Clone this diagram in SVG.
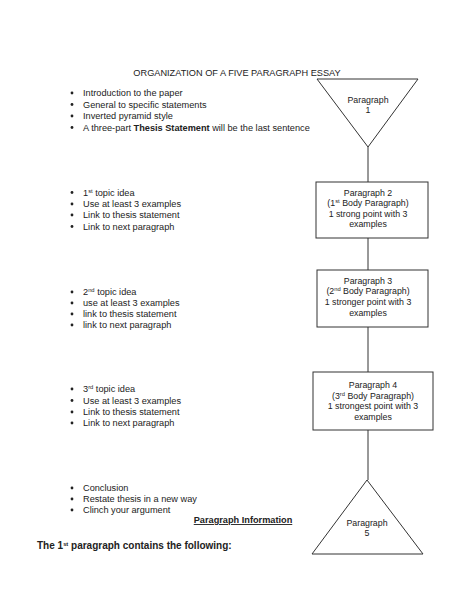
<svg xmlns="http://www.w3.org/2000/svg" width="474" height="612" viewBox="0 0 474 612">
<style>
text{font-family:"Liberation Sans",Arial,sans-serif;fill:#222;font-size:9.2px}
.n text{font-size:8.8px}
.c{text-anchor:middle}
.b{font-weight:bold}
.sh{fill:#fff;stroke:#333;stroke-width:1}
.ln{stroke:#333;stroke-width:1;fill:none}
.dot{fill:#222}
.sup{font-size:5.8px}
</style>
<rect width="474" height="612" fill="#fff"/>
<text class="c" x="237" y="76">ORGANIZATION OF A FIVE PARAGRAPH ESSAY</text>

<g id="connectors">
<line class="ln" x1="368" y1="147" x2="368" y2="182"/>
<line class="ln" x1="368" y1="238" x2="368" y2="270"/>
<line class="ln" x1="368" y1="327" x2="368" y2="372"/>
<line class="ln" x1="368" y1="430" x2="368" y2="480"/>
</g>

<g id="p1" class="n">
<polygon class="sh" points="317,79 418,79 368,147"/>
<text class="c" x="368" y="102.5">Paragraph</text>
<text class="c" x="368" y="113">1</text>
</g>
<g id="p2" class="n">
<rect class="sh" x="316" y="182" width="112" height="56"/>
<text class="c" x="368" y="195.5">Paragraph 2</text>
<text class="c" x="368" y="206">(1<tspan class="sup" dy="-3">st</tspan><tspan dy="3"> Body Paragraph)</tspan></text>
<text class="c" x="368" y="216.5">1 strong point with 3</text>
<text class="c" x="368" y="227">examples</text>
</g>
<g id="p3" class="n">
<rect class="sh" x="317" y="270" width="111" height="57"/>
<text class="c" x="368" y="283.5">Paragraph 3</text>
<text class="c" x="368" y="294">(2<tspan class="sup" dy="-3">nd</tspan><tspan dy="3"> Body Paragraph)</tspan></text>
<text class="c" x="368" y="304.5">1 stronger point with 3</text>
<text class="c" x="368" y="315.5">examples</text>
</g>
<g id="p4" class="n">
<rect class="sh" x="313" y="372" width="120" height="58"/>
<text class="c" x="373" y="388">Paragraph 4</text>
<text class="c" x="373" y="398.5">(3<tspan class="sup" dy="-3">rd</tspan><tspan dy="3"> Body Paragraph)</tspan></text>
<text class="c" x="373" y="409">1 strongest point with 3</text>
<text class="c" x="373" y="420">examples</text>
</g>
<g id="p5" class="n">
<polygon class="sh" points="367,480 423,554 312,554"/>
<text class="c" x="367" y="526">Paragraph</text>
<text class="c" x="367" y="536">5</text>
</g>

<g id="list1">
<circle class="dot" cx="72" cy="93" r="1.4"/><text x="83" y="96">Introduction to the paper</text>
<circle class="dot" cx="72" cy="104.5" r="1.4"/><text x="83" y="107.5">General to specific statements</text>
<circle class="dot" cx="72" cy="116" r="1.4"/><text x="83" y="119">Inverted pyramid style</text>
<circle class="dot" cx="72" cy="127.5" r="1.4"/><text x="83" y="130.5">A three-part <tspan class="b">Thesis Statement</tspan> will be the last sentence</text>
</g>
<g id="list2">
<circle class="dot" cx="72" cy="192.5" r="1.4"/><text x="83" y="195.5">1<tspan class="sup" dy="-3">st</tspan><tspan dy="3"> topic idea</tspan></text>
<circle class="dot" cx="72" cy="204" r="1.4"/><text x="83" y="207">Use at least 3 examples</text>
<circle class="dot" cx="72" cy="215" r="1.4"/><text x="83" y="218">Link to thesis statement</text>
<circle class="dot" cx="72" cy="226.5" r="1.4"/><text x="83" y="229.5">Link to next paragraph</text>
</g>
<g id="list3">
<circle class="dot" cx="72" cy="292" r="1.4"/><text x="83" y="295">2<tspan class="sup" dy="-3">nd</tspan><tspan dy="3"> topic idea</tspan></text>
<circle class="dot" cx="72" cy="303" r="1.4"/><text x="83" y="306">use at least 3 examples</text>
<circle class="dot" cx="72" cy="314" r="1.4"/><text x="83" y="317">link to thesis statement</text>
<circle class="dot" cx="72" cy="325" r="1.4"/><text x="83" y="328">link to next paragraph</text>
</g>
<g id="list4">
<circle class="dot" cx="72" cy="389" r="1.4"/><text x="83" y="392">3<tspan class="sup" dy="-3">rd</tspan><tspan dy="3"> topic idea</tspan></text>
<circle class="dot" cx="72" cy="400.5" r="1.4"/><text x="83" y="403.5">Use at least 3 examples</text>
<circle class="dot" cx="72" cy="412" r="1.4"/><text x="83" y="415">Link to thesis statement</text>
<circle class="dot" cx="72" cy="423" r="1.4"/><text x="83" y="426">Link to next paragraph</text>
</g>
<g id="list5">
<circle class="dot" cx="72" cy="488" r="1.4"/><text x="83" y="491">Conclusion</text>
<circle class="dot" cx="72" cy="499" r="1.4"/><text x="83" y="502">Restate thesis in a new way</text>
<circle class="dot" cx="72" cy="510" r="1.4"/><text x="83" y="513">Clinch your argument</text>
</g>
<text class="b c" x="243" y="523" text-decoration="underline">Paragraph Information</text>
<text class="b" x="37" y="549" style="font-size:10px">The 1<tspan class="sup" dy="-3.5">st</tspan><tspan dy="3.5"> paragraph contains the following:</tspan></text>
</svg>
